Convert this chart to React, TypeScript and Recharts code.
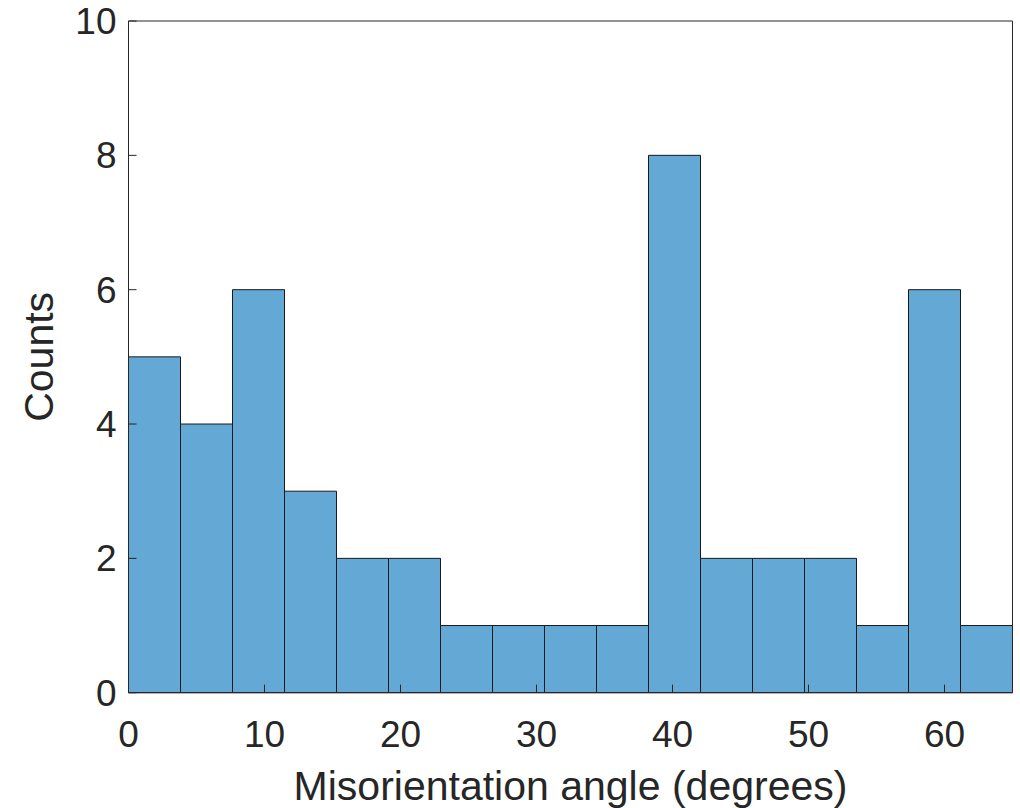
import React from 'react';
import { BarChart, Bar, XAxis, YAxis, Label } from 'recharts';

const binEdges = [
  0, 3.82, 7.65, 11.47, 15.29, 19.12, 22.94, 26.76, 30.59, 34.41,
  38.24, 42.06, 45.88, 49.71, 53.53, 57.35, 61.18,
];
const counts = [5, 4, 6, 3, 2, 2, 1, 1, 1, 1, 8, 2, 2, 2, 1, 6, 1];
const xTicks = [0, 10, 20, 30, 40, 50, 60];
const yTicks = [0, 2, 4, 6, 8, 10];
const xLabel = 'Misorientation angle (degrees)';
const yLabel = 'Counts';

const data = binEdges.map((edge, i) => ({ bin: `b${i}`, edge, count: counts[i] }));

const AXIS = '#262626';
const FONT = '"Liberation Sans", Arial, Helvetica, sans-serif';

const W = 1020;
const H = 808;
const M = { top: 20, right: 6.5, bottom: 0, left: 0 };
const Y_AXIS_W = 128.5;
const X_AXIS_H = 115.3;

const XLabelContent = (props: any) => {
  const vb = props.viewBox || { x: Y_AXIS_W, y: H - X_AXIS_H, width: 884, height: X_AXIS_H };
  return (
    <text
      x={vb.x + vb.width / 2}
      y={vb.y + 107}
      textAnchor="middle"
      fill={AXIS}
      fontSize={41}
      fontFamily={FONT}
    >
      {xLabel}
    </text>
  );
};

const YLabelContent = (props: any) => {
  const vb = props.viewBox || { x: 0, y: 21, width: Y_AXIS_W, height: H - 21 - X_AXIS_H };
  const x = vb.x + 53;
  const y = vb.y + vb.height / 2;
  return (
    <text
      x={x}
      y={y}
      transform={`rotate(-90, ${x}, ${y})`}
      textAnchor="middle"
      fill={AXIS}
      fontSize={41}
      fontFamily={FONT}
    >
      {yLabel}
    </text>
  );
};

const tickStyle = { fill: AXIS, fontSize: 37, fontFamily: FONT };

export default function App() {
  return (
    <div style={{ position: 'absolute', left: 0, top: 0, width: W, height: H, background: '#fff' }}>
      <BarChart
        width={W}
        height={H}
        data={data}
        margin={M}
        barCategoryGap={0}
        barGap={0}
      >
        <XAxis xAxisId="cat" dataKey="bin" type="category" hide height={0} />
        <XAxis
          xAxisId="num"
          dataKey="edge"
          type="number"
          domain={[0, 65]}
          ticks={xTicks}
          interval={0}
          allowDataOverflow
          orientation="bottom"
          height={X_AXIS_H}
          stroke={AXIS}
          tickSize={-8}
          tickMargin={36}
          tick={tickStyle}
          axisLine={{ stroke: AXIS, strokeWidth: 1 }}
          tickLine={{ stroke: AXIS, strokeWidth: 1 }}
        >
          <Label content={XLabelContent} />
        </XAxis>
        <XAxis
          xAxisId="top"
          dataKey="edge"
          type="number"
          domain={[0, 65]}
          ticks={xTicks}
          interval={0}
          allowDataOverflow
          orientation="top"
          height={1}
          stroke={AXIS}
          tickSize={-8}
          tick={false}
          axisLine={{ stroke: AXIS, strokeWidth: 1 }}
          tickLine={{ stroke: AXIS, strokeWidth: 1 }}
        />
        <YAxis
          yAxisId="left"
          type="number"
          domain={[0, 10]}
          ticks={yTicks}
          interval={0}
          width={Y_AXIS_W}
          tickSize={-8}
          tickMargin={20}
          tick={tickStyle}
          axisLine={{ stroke: AXIS, strokeWidth: 1 }}
          tickLine={{ stroke: AXIS, strokeWidth: 1 }}
        >
          <Label content={YLabelContent} />
        </YAxis>
        <YAxis
          yAxisId="right"
          orientation="right"
          type="number"
          domain={[0, 10]}
          ticks={yTicks}
          interval={0}
          width={1}
          stroke={AXIS}
          tickSize={-8}
          tick={false}
          axisLine={{ stroke: AXIS, strokeWidth: 1 }}
          tickLine={{ stroke: AXIS, strokeWidth: 1 }}
        />
        <Bar
          dataKey="count"
          xAxisId="cat"
          yAxisId="left"
          fill="#64a8d6"
          stroke="#1a1a1a"
          strokeWidth={1}
          isAnimationActive={false}
        />
      </BarChart>
    </div>
  );
}
